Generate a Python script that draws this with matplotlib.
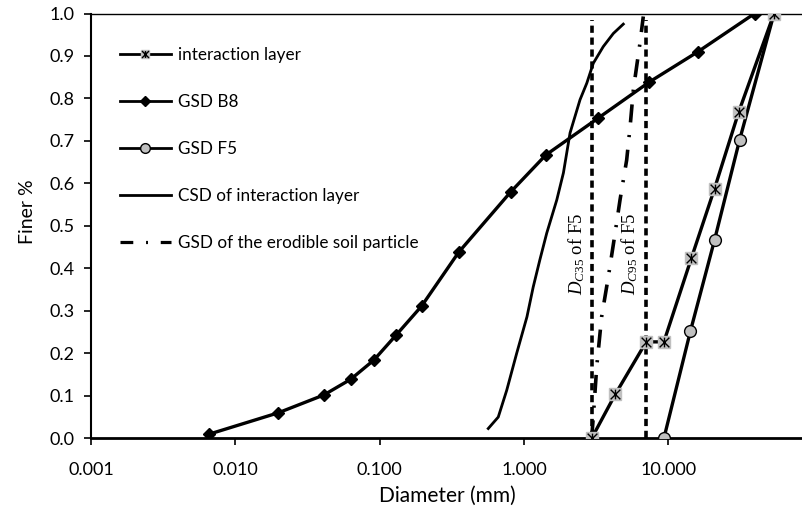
import matplotlib

matplotlib.use("Agg")
import matplotlib.pyplot as plt  # noqa: E402
from matplotlib.lines import Line2D  # noqa: E402
from matplotlib.path import Path  # noqa: E402
from matplotlib.ticker import FixedLocator, NullLocator  # noqa: E402

# --- data (diameter in mm, fraction finer) ---
inter_d = [2.95, 4.31, 7.05, 9.35, 14.5, 21.0, 30.8, 54.3]
inter_f = [0.0, 0.104, 0.227, 0.227, 0.424, 0.588, 0.767, 1.0]

b8_d = [0.0066, 0.0198, 0.041, 0.063, 0.091, 0.130, 0.195, 0.353, 0.81, 1.42, 3.25, 7.43, 16.1, 39.8]
b8_f = [0.01, 0.06, 0.102, 0.139, 0.184, 0.243, 0.311, 0.438, 0.58, 0.667, 0.753, 0.839, 0.91, 1.0]

f5_d = [9.35, 14.3, 21.0, 31.3, 54.3]
f5_f = [0.0, 0.253, 0.467, 0.702, 1.0]

csd_d = [0.566, 0.664, 0.760, 0.891, 1.05, 1.16, 1.29, 1.44, 1.69, 1.88, 2.09, 2.45, 2.73, 3.03,
         3.55, 4.17, 4.89]
csd_f = [0.023, 0.050, 0.113, 0.200, 0.286, 0.356, 0.420, 0.483, 0.561, 0.625, 0.719, 0.797,
         0.836, 0.883, 0.922, 0.953, 0.975]

ero_d = [2.95, 3.03, 3.20, 3.46, 3.85, 4.29, 4.64, 5.16, 5.45, 5.74, 6.05, 6.38, 6.73]
ero_f = [0.0, 0.051, 0.169, 0.286, 0.38, 0.483, 0.561, 0.655, 0.733, 0.82, 0.875, 0.93, 0.993]

dc35, dc95 = 2.95, 7.0
xticks = [0.001, 0.01, 0.1, 1, 10]
yticks = [i / 10 for i in range(11)]

plt.rcParams["font.family"] = ["Lato", "DejaVu Sans"]
plt.rcParams["mathtext.fontset"] = "custom"
plt.rcParams["mathtext.rm"] = "Liberation Serif"
plt.rcParams["mathtext.it"] = "Liberation Serif:italic"

# Excel style "star" marker: X plus a vertical bar
star = Path([(-1, -1), (1, 1), (-1, 1), (1, -1), (0, -1), (0, 1)],
            [Path.MOVETO, Path.LINETO, Path.MOVETO, Path.LINETO, Path.MOVETO, Path.LINETO])

fig = plt.figure(figsize=(8.03, 5.12), dpi=100)
ax = fig.add_axes([91.3 / 803, 1 - 438.3 / 512, 1 - 91.3 / 803, (438.3 - 13.5) / 512])

ax.axvline(dc35, ymax=0.985, color="black", lw=2.6, ls=(0, (2.0, 1.3)), zorder=2)
ax.axvline(dc95, ymax=0.985, color="black", lw=2.6, ls=(0, (2.0, 1.3)), zorder=2)
ax.plot(csd_d, csd_f, color="black", lw=2.0, zorder=3)
ax.plot(ero_d, ero_f, color="black", lw=2.6, ls=(0, (5, 3.5, 0.6, 3.5)), zorder=3)
ax.plot(b8_d, b8_f, color="black", lw=2.4, marker="D", ms=6.5, zorder=4)
ax.plot(f5_d, f5_f, color="black", lw=2.4, marker="o", ms=8.5, mfc="#c0c0c0", mec="black",
        mew=1.0, zorder=4)
ax.plot(inter_d, inter_f, color="black", lw=2.4, marker="s", ms=8, mfc="#c0c0c0",
        mec="#c0c0c0", zorder=5)
ax.plot(inter_d, inter_f, ls="none", marker=star, ms=7, mec="black", mew=1.0, zorder=6)

ax.text(2.34, 0.435, "$D_{C35}$ of F5", rotation=90, ha="center", va="center", fontsize=13.5,
        family="Liberation Serif", zorder=7)
ax.text(5.44, 0.435, "$D_{C95}$ of F5", rotation=90, ha="center", va="center", fontsize=13.5,
        family="Liberation Serif", zorder=7)

ax.set_xscale("log")
ax.set_xlim(0.001, 10 ** (-3 + (803 - 91.3) / 144.2))
ax.set_ylim(0, 1.0)
ax.xaxis.set_major_locator(FixedLocator(xticks))
ax.xaxis.set_minor_locator(NullLocator())
ax.set_xticklabels([f"{t:.3f}" for t in xticks])
ax.set_yticks(yticks)
ax.set_yticklabels([f"{t:.1f}" for t in yticks])
ax.tick_params(axis="both", direction="out", length=5, width=1.2, labelsize=13)
ax.tick_params(axis="x", pad=12)
ax.tick_params(axis="y", pad=7)

ax.spines["right"].set_visible(False)
ax.spines["top"].set_linewidth(1.0)
ax.spines["left"].set_linewidth(1.5)
ax.spines["bottom"].set_linewidth(2.0)

ax.set_xlabel("Diameter (mm)", fontsize=15, labelpad=6)
ax.set_ylabel("Finer %", fontsize=14)
ax.yaxis.set_label_coords(-0.078, 0.533)

# legend proxies
h_inter = (Line2D([], [], color="black", lw=2, marker="s", ms=6, mfc="#c0c0c0", mec="#c0c0c0"),
           Line2D([], [], ls="none", marker=star, ms=5, mec="black", mew=1.0))
h_b8 = Line2D([], [], color="black", lw=2, marker="D", ms=5)
h_f5 = Line2D([], [], color="black", lw=2, marker="o", ms=7, mfc="#c0c0c0", mec="black", mew=1)
h_csd = Line2D([], [], color="black", lw=2)
h_ero = Line2D([], [], color="black", lw=2.3, ls=(0, (4, 4, 0.6, 4)))
ax.legend([h_inter, h_b8, h_f5, h_csd, h_ero],
          ["interaction layer", "GSD B8", "GSD F5", "CSD of interaction layer",
           "GSD of the erodible soil particle"],
          loc="upper left", bbox_to_anchor=(0.040, 0.921), frameon=False, fontsize=12.3,
          handlelength=3.0, handletextpad=0.4, labelspacing=1.82, borderpad=0, borderaxespad=0)

fig.savefig("out.png", dpi=100)
